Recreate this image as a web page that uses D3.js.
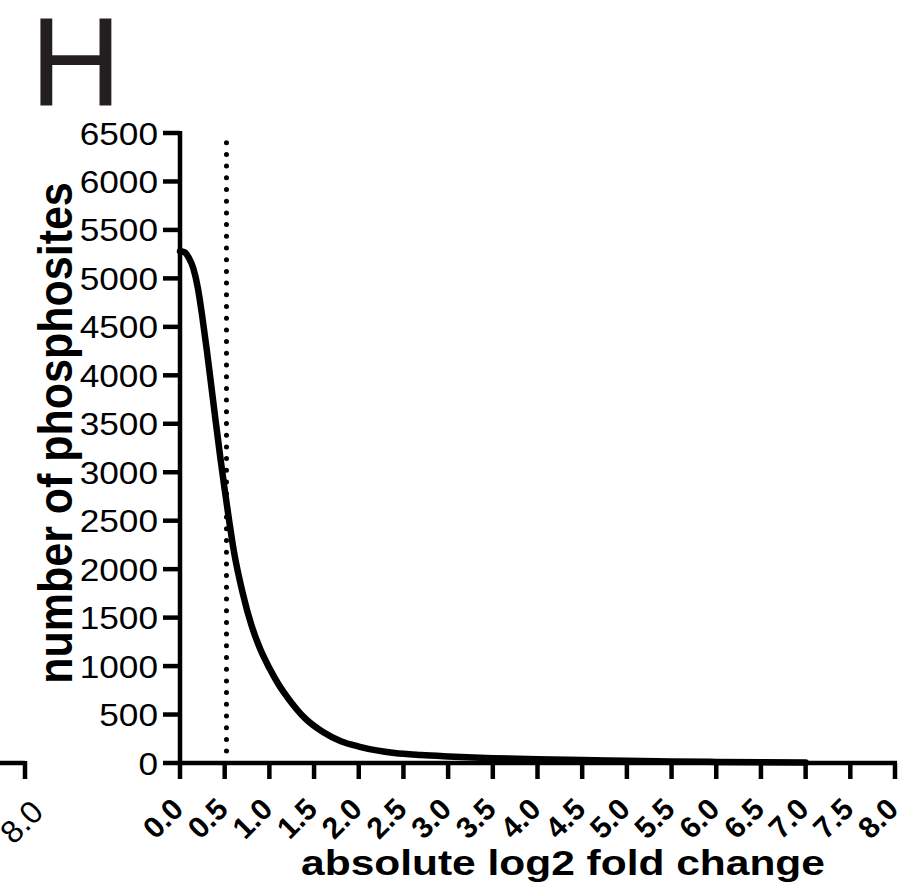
<!DOCTYPE html>
<html>
<head>
<meta charset="utf-8">
<script src="https://cdn.jsdelivr.net/npm/d3@7"></script>
<style>
  body { margin: 0; background: #fff; }
  text { font-family: "Liberation Sans", Arial, Helvetica, sans-serif; fill: #000; }
</style>
</head>
<body>
<script>
// Chart values
var foldChange = [0, 0.05, 0.1, 0.15, 0.2, 0.25, 0.3, 0.35, 0.4, 0.45, 0.5, 0.55, 0.6, 0.7,
    0.8, 0.9, 1.0, 1.1, 1.2, 1.4, 1.6, 1.8, 2.0, 2.2, 2.4, 2.7, 3.0, 3.5, 4.0, 4.5,
    5.0, 5.5, 6.0, 6.5, 7.0];
var phosphositeCount = [5280, 5270, 5210, 5100, 4900, 4600, 4260, 3890, 3520, 3160, 2820, 2500, 2200, 1760,
    1420, 1170, 980, 815, 680, 460, 320, 225, 170, 130, 103, 82, 68, 50, 38, 30,
    22, 16, 11, 7, 4];
var yTicks = [0, 500, 1000, 1500, 2000, 2500, 3000, 3500, 4000, 4500, 5000, 5500, 6000, 6500];
var xTicks = d3.range(0, 8.01, 0.5);
var cutoff = 0.52;          // dotted threshold line
var cutoffTop = 6400;
var panelLetter = "H";
var xTitle = "absolute log2 fold change";
var yTitle = "number of phosphosites";

// Frame
var width = 907,
    height = 891;

var svg = d3.select("body")
    .append("svg")
    .attr("width", width)
    .attr("height", height);

var x = d3.scaleLinear().domain([0, 8]).range([180, 895]);
var y = d3.scaleLinear().domain([0, 6500]).range([763, 133]);

// panel letter
svg.append("text")
    .attr("x", 30)
    .attr("y", 105)
    .style("font-size", "127px")
    .style("fill", "#231f20")
    .text(panelLetter);

// leftover axis end of the neighbouring panel
var xPrev = d3.scaleLinear().domain([0, 8]).range([-690, 25]);
svg.append("line")
    .attr("x1", 0).attr("x2", xPrev(8))
    .attr("y1", 763).attr("y2", 763)
    .attr("stroke", "#000").attr("stroke-width", 4.5);
svg.append("line")
    .attr("x1", xPrev(8)).attr("x2", xPrev(8))
    .attr("y1", 761).attr("y2", 779)
    .attr("stroke", "#000").attr("stroke-width", 4.5);
svg.append("text")
    .attr("transform", "translate(" + (xPrev(8) + 20) + ",814) rotate(-45)")
    .attr("text-anchor", "end")
    .style("font-size", "32px")
    .text("8.0");

// y axis
var yAxis = svg.append("g").attr("class", "y-axis");
yAxis.append("line")
    .attr("x1", 180).attr("x2", 180)
    .attr("y1", y(6500) - 2).attr("y2", y(0))
    .attr("stroke", "#000").attr("stroke-width", 4.5);
yAxis.selectAll(".ytick")
    .data(yTicks)
    .enter()
    .append("line")
    .attr("class", "ytick")
    .attr("x1", 163).attr("x2", 180)
    .attr("y1", function(d) { return y(d); })
    .attr("y2", function(d) { return y(d); })
    .attr("stroke", "#000").attr("stroke-width", 4.5);
yAxis.selectAll(".ylab")
    .data(yTicks)
    .enter()
    .append("text")
    .attr("class", "ylab")
    .attr("transform", function(d) { return "translate(158," + y(d) + ") scale(1.1,1)"; })
    .attr("text-anchor", "end")
    .attr("dy", "0.36em")
    .style("font-size", "32px")
    .text(function(d) { return d; });

// x axis
var xAxis = svg.append("g").attr("class", "x-axis");
xAxis.append("line")
    .attr("x1", x(0) - 2).attr("x2", x(8) + 2)
    .attr("y1", y(0)).attr("y2", y(0))
    .attr("stroke", "#000").attr("stroke-width", 4.5);
xAxis.selectAll(".xtick")
    .data(xTicks)
    .enter()
    .append("line")
    .attr("class", "xtick")
    .attr("x1", function(d) { return x(d); })
    .attr("x2", function(d) { return x(d); })
    .attr("y1", y(0)).attr("y2", 779)
    .attr("stroke", "#000").attr("stroke-width", 4.5);
xAxis.selectAll(".xlab")
    .data(xTicks)
    .enter()
    .append("text")
    .attr("class", "xlab")
    .attr("transform", function(d) { return "translate(" + (x(d) + 5) + ",811) rotate(-45)"; })
    .attr("text-anchor", "end")
    .style("font-size", "30px")
    .style("font-weight", "bold")
    .text(function(d) { return d3.format(".1f")(d); });

// axis titles
svg.append("text")
    .attr("transform", "translate(563,875) scale(1.18,1)")
    .attr("text-anchor", "middle")
    .style("font-size", "36px")
    .style("font-weight", "bold")
    .text(xTitle);

svg.append("text")
    .attr("transform", "translate(72,433) scale(1.12,1) rotate(-90)")
    .attr("text-anchor", "middle")
    .style("font-size", "43px")
    .style("font-weight", "bold")
    .text(yTitle);

// dotted threshold
svg.append("line")
    .attr("x1", x(cutoff)).attr("x2", x(cutoff))
    .attr("y1", y(cutoffTop)).attr("y2", y(0) - 8)
    .attr("stroke", "#000")
    .attr("stroke-width", 5)
    .attr("stroke-linecap", "round")
    .attr("stroke-dasharray", "0,11.7");

// distribution curve
var points = foldChange.map(function(d, i) { return [d, phosphositeCount[i]]; });
var line = d3.line()
    .x(function(d) { return x(d[0]); })
    .y(function(d) { return y(d[1]); })
    .curve(d3.curveMonotoneX);

svg.append("path")
    .datum(points)
    .attr("d", line)
    .attr("fill", "none")
    .attr("stroke", "#000")
    .attr("stroke-width", 6.5)
    .attr("stroke-linecap", "round")
    .attr("stroke-linejoin", "round");
</script>
</body>
</html>
